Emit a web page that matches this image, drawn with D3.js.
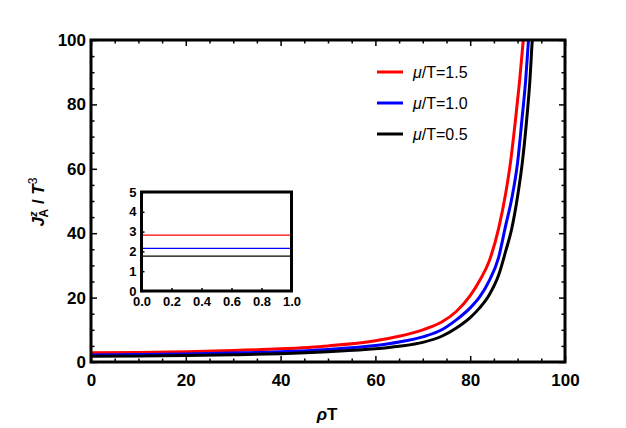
<!DOCTYPE html>
<html lang="en">
	<head>
		<meta charset="utf-8">
		<title>J_A / T^3 vs rho T</title>
		<script src="https://d3js.org/d3.v7.min.js" charset="utf-8"></script>
		<style type="text/css">
			body { margin: 0; background: white; }
			svg text { font-family: "Liberation Sans", Arial, sans-serif; }
		</style>
	</head>
	<body>
		<script>

			//Width and height
			var w = 626;
			var h = 428;

			//Series: rho T and J/T^3
			var seriesNames = ["1.5", "1.0", "0.5"];
			var seriesColors = ["#ff0000", "#0000ff", "#000000"];

			var rhoRed = [0, 10, 20, 30, 40, 50, 60, 65, 70, 74, 77, 80, 82, 84, 86, 87.5, 88.5, 89.5, 90.4, 91.2, 91.6];
			var jRed   = [2.85, 2.95, 3.2, 3.55, 4.1, 5.0, 6.6, 8.0, 10.0, 12.4, 15.6, 20.6, 25.3, 31.3, 41.5, 52.5, 62, 74.5, 87, 100, 107];

			var rhoBlue = [0, 10, 20, 30, 40, 50, 60, 65, 70, 74, 77, 80, 82, 84, 86, 87.5, 88.8, 90, 90.9, 91.7, 92.3, 92.7];
			var jBlue   = [2.2, 2.3, 2.5, 2.8, 3.2, 3.9, 5.1, 6.2, 7.8, 10.0, 13.0, 16.8, 20.2, 25.2, 32.5, 42.5, 51, 62, 75, 87.5, 100, 107];

			var rhoBlack = [0, 10, 20, 30, 40, 50, 60, 65, 70, 74, 77, 80, 82, 84, 86, 87.5, 88.7, 90, 91, 91.9, 92.6, 93.1, 93.5];
			var jBlack   = [1.76, 1.85, 2.0, 2.25, 2.6, 3.2, 4.1, 4.9, 6.1, 8.0, 10.5, 13.8, 16.8, 20.8, 27, 34.5, 41, 51.5, 62, 75, 87.5, 100, 107];

			//Inset: constant values at rho T from 0 to 1
			var insetX = [0, 1];
			var insetValues = [2.82, 2.15, 1.76];

			//Tick labels
			var xTicks = [0, 20, 40, 60, 80, 100];
			var yTicks = [0, 20, 40, 60, 80, 100];
			var insetXTicks = [0, 0.2, 0.4, 0.6, 0.8, 1.0];
			var insetYTicks = [0, 1, 2, 3, 4, 5];

			var series = [
				{ name: seriesNames[0], color: seriesColors[0], x: rhoRed, y: jRed },
				{ name: seriesNames[1], color: seriesColors[1], x: rhoBlue, y: jBlue },
				{ name: seriesNames[2], color: seriesColors[2], x: rhoBlack, y: jBlack }
			];

			//Plot box (window.top is taken, so prefixed names)
			var pLeft = 91, pRight = 565, pTop = 40, pBottom = 362;

			var xScale = d3.scaleLinear().domain([0, 100]).range([pLeft, pRight]);
			var yScale = d3.scaleLinear().domain([0, 100]).range([pBottom, pTop]);

			var svg = d3.select("body")
				.append("svg")
				.attr("width", w)
				.attr("height", h);

			svg.append("clipPath")
				.attr("id", "plotClip")
				.append("rect")
				.attr("x", pLeft)
				.attr("y", pTop)
				.attr("width", pRight - pLeft)
				.attr("height", pBottom - pTop);

			//Curves
			var line = d3.line()
				.x(function(d) { return xScale(d[0]); })
				.y(function(d) { return yScale(d[1]); })
				.curve(d3.curveMonotoneX);

			svg.append("g")
				.attr("clip-path", "url(#plotClip)")
				.selectAll("path")
				.data(series)
				.enter()
				.append("path")
				.attr("d", function(s) {
					return line(d3.zip(s.x, s.y));
				})
				.attr("fill", "none")
				.attr("stroke", function(s) { return s.color; })
				.attr("stroke-width", 3);

			//Axes, ticks pointing inwards, minor every 5
			var minor = d3.range(0, 101, 5);

			function tickAxis(axis, scale, major, labels) {
				return axis(scale)
					.tickValues(minor)
					.tickSizeInner(0)
					.tickSizeOuter(0)
					.tickFormat(function(d) {
						return labels && major.indexOf(d) >= 0 ? d : "";
					});
			}

			function styleTicks(g, isMajor, dir, sign) {
				g.select(".domain").remove();
				g.selectAll(".tick line")
					.attr(dir, function(d) { return sign * (isMajor.indexOf(d) >= 0 ? 6 : 3.5); })
					.attr("stroke", "#000")
					.attr("stroke-width", 1.5);
				g.selectAll(".tick text")
					.attr("font-size", 17)
					.attr("font-weight", "bold")
					.attr("fill", "#000");
			}

			var gx = svg.append("g")
				.attr("transform", "translate(0," + pBottom + ")")
				.call(tickAxis(d3.axisBottom, xScale, xTicks, true));
			styleTicks(gx, xTicks, "y2", -1);
			gx.selectAll(".tick text").attr("y", 12).attr("dy", "0.71em");

			var gxTop = svg.append("g")
				.attr("transform", "translate(0," + pTop + ")")
				.call(tickAxis(d3.axisTop, xScale, xTicks, false));
			styleTicks(gxTop, xTicks, "y2", 1);

			var gy = svg.append("g")
				.attr("transform", "translate(" + pLeft + ",0)")
				.call(tickAxis(d3.axisLeft, yScale, yTicks, true));
			styleTicks(gy, yTicks, "x2", 1);
			gy.selectAll(".tick text").attr("x", -5);

			var gyRight = svg.append("g")
				.attr("transform", "translate(" + pRight + ",0)")
				.call(tickAxis(d3.axisRight, yScale, yTicks, false));
			styleTicks(gyRight, yTicks, "x2", -1);

			//Frame
			svg.append("rect")
				.attr("x", pLeft)
				.attr("y", pTop)
				.attr("width", pRight - pLeft)
				.attr("height", pBottom - pTop)
				.attr("fill", "none")
				.attr("stroke", "#000")
				.attr("stroke-width", 3);

			//Axis titles
			var xTitle = svg.append("text")
				.attr("x", 327)
				.attr("y", 420)
				.attr("text-anchor", "middle")
				.attr("font-size", 17)
				.attr("font-weight", "bold");
			xTitle.append("tspan").attr("font-style", "italic").text("ρ");
			xTitle.append("tspan").text("T");

			var yTitle = svg.append("text")
				.attr("transform", "translate(44,202) rotate(-90)")
				.attr("text-anchor", "middle")
				.attr("font-size", 17)
				.attr("font-weight", "bold");
			yTitle.append("tspan").attr("font-style", "italic").text("J");
			yTitle.append("tspan").attr("font-style", "italic").attr("font-size", 11).attr("dy", -7).text("z");
			yTitle.append("tspan").attr("font-size", 12).attr("dy", 11).attr("dx", -6).text("A");
			yTitle.append("tspan").attr("dy", -4).text(" / ");
			yTitle.append("tspan").attr("font-style", "italic").text("T");
			yTitle.append("tspan").attr("font-size", 12).attr("font-weight", "normal").attr("dy", -7).text("3");

			//Legend
			var legend = svg.append("g")
				.selectAll("g")
				.data(series)
				.enter()
				.append("g")
				.attr("transform", function(d, i) {
					return "translate(377," + (72 + i * 31) + ")";
				});

			legend.append("line")
				.attr("x1", 0)
				.attr("x2", 26)
				.attr("stroke", function(d) { return d.color; })
				.attr("stroke-width", 3);

			var legendText = legend.append("text")
				.attr("x", 36)
				.attr("y", 6)
				.attr("font-size", 16);
			legendText.append("tspan").attr("font-style", "italic").text("μ");
			legendText.append("tspan").text(function(d) { return "/T=" + d.name; });

			//Inset
			var iLeft = 141.5, iRight = 291.5, iTop = 192, iBottom = 291;
			var ixScale = d3.scaleLinear().domain([0, 1]).range([iLeft, iRight]);
			var iyScale = d3.scaleLinear().domain([0, 5]).range([iBottom, iTop]);

			svg.append("rect")
				.attr("x", iLeft)
				.attr("y", iTop)
				.attr("width", iRight - iLeft)
				.attr("height", iBottom - iTop)
				.attr("fill", "white");

			svg.append("g")
				.selectAll("line")
				.data(insetValues)
				.enter()
				.append("line")
				.attr("x1", ixScale(insetX[0]))
				.attr("x2", ixScale(insetX[1]))
				.attr("y1", function(d) { return iyScale(d); })
				.attr("y2", function(d) { return iyScale(d); })
				.attr("stroke", function(d, i) { return seriesColors[i]; })
				.attr("stroke-width", 1.2);

			var ix = svg.append("g")
				.attr("transform", "translate(0," + iBottom + ")")
				.call(d3.axisBottom(ixScale).tickValues(insetXTicks).tickSize(0).tickFormat(d3.format(".1f")));
			ix.select(".domain").remove();
			ix.selectAll(".tick line").attr("y2", -3).attr("stroke", "#000").attr("stroke-width", 1.5);
			ix.selectAll(".tick text").attr("y", 6).attr("font-size", 13).attr("font-weight", "bold").attr("fill", "#000");

			var iy = svg.append("g")
				.attr("transform", "translate(" + iLeft + ",0)")
				.call(d3.axisLeft(iyScale).tickValues(insetYTicks).tickSize(0).tickFormat(d3.format("d")));
			iy.select(".domain").remove();
			iy.selectAll(".tick line").attr("x2", 3).attr("stroke", "#000").attr("stroke-width", 1.5);
			iy.selectAll(".tick text").attr("x", -5).attr("font-size", 13).attr("font-weight", "bold").attr("fill", "#000");

			svg.append("rect")
				.attr("x", iLeft)
				.attr("y", iTop)
				.attr("width", iRight - iLeft)
				.attr("height", iBottom - iTop)
				.attr("fill", "none")
				.attr("stroke", "#000")
				.attr("stroke-width", 3);

		</script>
	</body>
</html>
